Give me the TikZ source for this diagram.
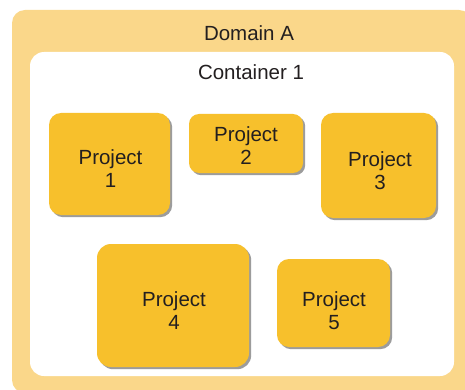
\documentclass[tikz,border=0pt]{standalone}
\usepackage{fontspec}
\setmainfont{Liberation Sans}
\usetikzlibrary{shadows}
\definecolor{domainfill}{HTML}{FAD78A}
\definecolor{projfill}{HTML}{F7C02C}
\definecolor{inktext}{HTML}{231F20}
\tikzset{
  domainbox/.style={fill=domainfill, draw=none, rounded corners=13pt},
  containerbox/.style={fill=white, draw=none, rounded corners=14pt},
  projbox/.style={fill=projfill, draw=none, rounded corners=12pt,
    drop shadow={shadow xshift=2.2pt, shadow yshift=-2.2pt, fill=black!70, opacity=0.55}},
  caption/.style={text=inktext, font=\fontsize{20.5}{23}\selectfont, inner sep=0pt},
  projtext/.style={text=inktext, font=\fontsize{20.5}{23}\selectfont, align=center, inner sep=0pt}
}
\begin{document}
\begin{tikzpicture}[x=1pt, y=-1pt]
  \useasboundingbox (0,0) rectangle (465,390);
  % outer domain and inner container
  \path[domainbox] (12,10) rectangle (472,393);
  \path[containerbox] (30,52) rectangle (454,376);
  \node[caption] (domain) at (249,33) {Domain A};
  \node[caption] (container) at (251,72) {Container 1};
  % project boxes
  \node[projbox, minimum width=121pt, minimum height=102pt] (p1) at (109.5,164) {};
  \node[projbox, minimum width=114pt, minimum height=59pt, rounded corners=10pt] (p2) at (246,143.5) {};
  \node[projbox, minimum width=115pt, minimum height=105pt] (p3) at (378.5,165.5) {};
  \node[projbox, minimum width=152pt, minimum height=123pt, rounded corners=14pt] (p4) at (173,305.5) {};
  \node[projbox, minimum width=113pt, minimum height=88pt] (p5) at (333.5,303) {};
  % project labels
  \node[projtext] (t1) at (110.5,169) {Project\\1};
  \node[projtext] (t2) at (246,146) {Project\\2};
  \node[projtext] (t3) at (380,171) {Project\\3};
  \node[projtext] (t4) at (174,310.5) {Project\\4};
  \node[projtext] (t5) at (334,310.5) {Project\\5};
\end{tikzpicture}
\end{document}
